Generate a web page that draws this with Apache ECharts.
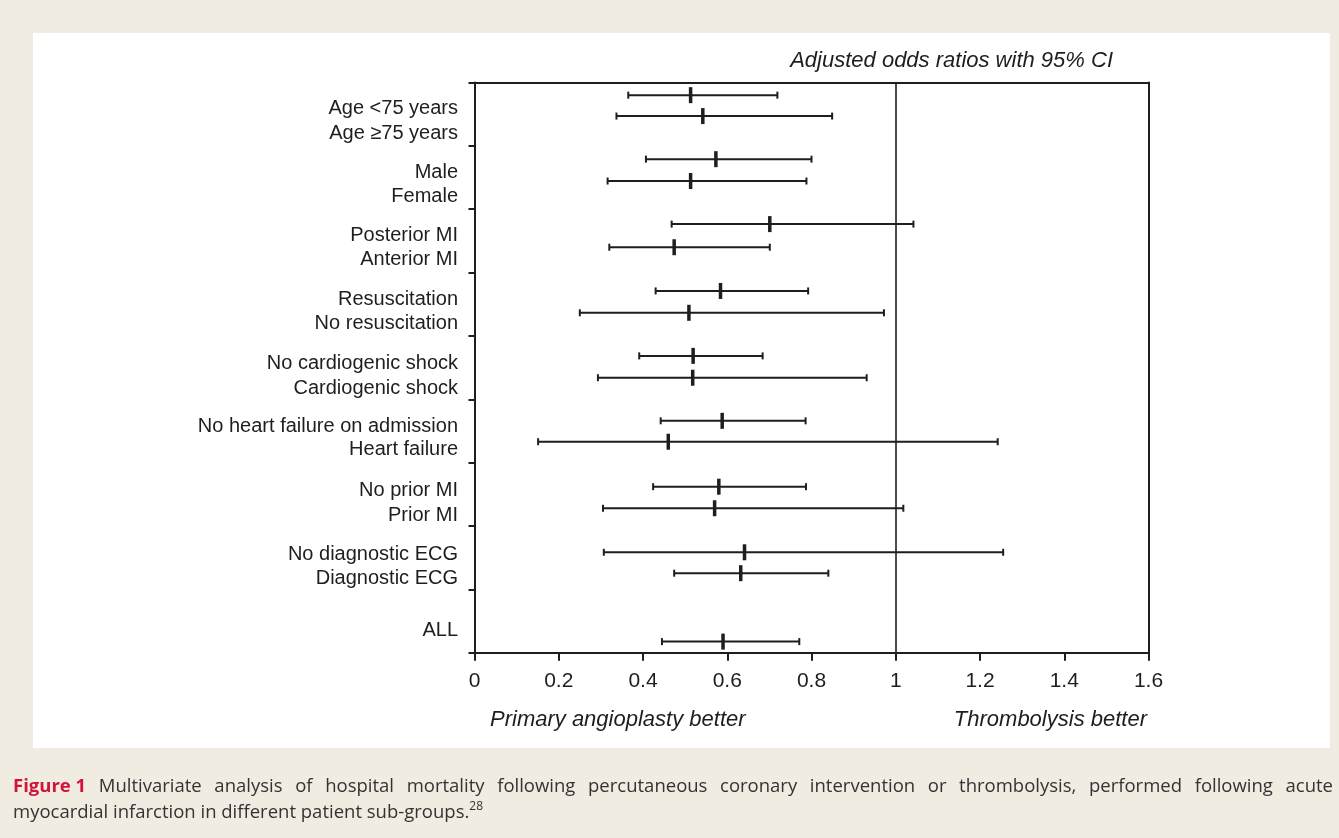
<!DOCTYPE html>
<html>
<head>
<meta charset="utf-8">
<script src="https://cdn.jsdelivr.net/npm/echarts@6/dist/echarts.min.js"></script>
<style>
  html, body { margin: 0; padding: 0; background: #f0ece2; }
  #chart { width: 1339px; height: 838px; }
</style>
</head>
<body>
<div id="chart"></div>
<script>
// ---- data ----
const rowLabels = [
  'Age <75 years', 'Age \u226575 years',
  'Male', 'Female',
  'Posterior MI', 'Anterior MI',
  'Resuscitation', 'No resuscitation',
  'No cardiogenic shock', 'Cardiogenic shock',
  'No heart failure on admission', 'Heart failure',
  'No prior MI', 'Prior MI',
  'No diagnostic ECG', 'Diagnostic ECG',
  'ALL'
];
const oddsRatio = [0.513, 0.542, 0.573, 0.513, 0.701, 0.474, 0.584, 0.509, 0.519, 0.518, 0.588, 0.460, 0.580, 0.570, 0.641, 0.632, 0.590];
const ciLower   = [0.365, 0.337, 0.407, 0.316, 0.468, 0.320, 0.430, 0.250, 0.391, 0.293, 0.442, 0.151, 0.424, 0.305, 0.307, 0.474, 0.445];
const ciUpper   = [0.719, 0.849, 0.800, 0.788, 1.042, 0.701, 0.792, 0.972, 0.684, 0.931, 0.786, 1.242, 0.787, 1.018, 1.255, 0.840, 0.771];
// vertical place of each interval and of each label, in subgroup units (0 = top, 9 = bottom)
const barRow   = [0.20, 0.53, 1.21, 1.555, 2.235, 2.60, 3.29, 3.635, 4.315, 4.66, 5.34, 5.67, 6.38, 6.72, 7.415, 7.745, 8.825];
const labelRow = [0.41, 0.80, 1.42, 1.80, 2.42, 2.80, 3.43, 3.81, 4.44, 4.83, 5.43, 5.80, 6.44, 6.83, 7.45, 7.83, 8.65];
const xTicks = [0, 0.2, 0.4, 0.6, 0.8, 1, 1.2, 1.4, 1.6];
const titleText = 'Adjusted odds ratios with 95% CI';
const leftNote = 'Primary angioplasty better';
const rightNote = 'Thrombolysis better';
const captionLabel = 'Figure 1';
const captionLine1 = 'Multivariate analysis of hospital mortality following percutaneous coronary intervention or thrombolysis, performed following acute';
const captionLine2 = 'myocardial infarction in different patient sub-groups.';
const captionRef = '28';

// ---- chart ----
const INK = '#1e1e1e';
const FONT = '"Liberation Sans", Arial, Helvetica, sans-serif';
const CAP_FONT = '18.5px "Open Sans", sans-serif';
const CAP_BOLD = 'bold 18.5px "Open Sans", sans-serif';
const CAP_COLOR = '#333333';
const FIG_COLOR = '#d2143a';
const chart = echarts.init(document.getElementById('chart'), null, { renderer: 'canvas' });

const ciData = oddsRatio.map((v, i) => [ciLower[i], v, ciUpper[i], barRow[i]]);
const labelData = labelRow.map((p, i) => [0, p, rowLabels[i]]);

function renderCI(params, api) {
  const y = api.value(3);
  const lo = api.coord([api.value(0), y]);
  const mid = api.coord([api.value(1), y]);
  const hi = api.coord([api.value(2), y]);
  const st = { stroke: INK, lineWidth: 2 };
  return {
    type: 'group',
    children: [
      { type: 'line', shape: { x1: lo[0], y1: lo[1], x2: hi[0], y2: hi[1] }, style: st },
      { type: 'line', shape: { x1: lo[0], y1: lo[1] - 3.5, x2: lo[0], y2: lo[1] + 3.5 }, style: st },
      { type: 'line', shape: { x1: hi[0], y1: hi[1] - 3.5, x2: hi[0], y2: hi[1] + 3.5 }, style: st },
      { type: 'line', shape: { x1: mid[0], y1: mid[1] - 8, x2: mid[0], y2: mid[1] + 8 }, style: { stroke: INK, lineWidth: 3.5 } }
    ]
  };
}

// justified first caption line (the caption paragraph is set justified)
function justifiedLine(x0, x1, y) {
  const ctx = document.createElement('canvas').getContext('2d');
  const words = [{ t: captionLabel, font: CAP_BOLD, fill: FIG_COLOR }]
    .concat(captionLine1.split(' ').map(w => ({ t: w, font: CAP_FONT, fill: CAP_COLOR })));
  let total = 0;
  words.forEach(w => { ctx.font = w.font; w.w = ctx.measureText(w.t).width; total += w.w; });
  const gap = (x1 - x0 - total) / (words.length - 1);
  let x = x0;
  return words.map(w => {
    const el = { type: 'text', silent: true, x: x, y: y, style: { text: w.t, font: w.font, fill: w.fill, verticalAlign: 'middle' } };
    x += w.w + gap;
    return el;
  });
}

const axisLineStyle = { color: INK, width: 2 };

chart.setOption({
  animation: false,
  backgroundColor: 'transparent',
  grid: { left: 474.5, top: 82.5, right: 190.5, bottom: 185.3, containLabel: false },
  xAxis: [
    {
      type: 'value', min: 0, max: 1.6, interval: 0.2, position: 'bottom',
      axisLine: { show: true, onZero: false, lineStyle: axisLineStyle },
      axisTick: { show: true, length: 8, lineStyle: { color: INK, width: 2 } },
      axisLabel: {
        show: true, margin: 18, fontSize: 21, color: INK, fontFamily: FONT,
        formatter: v => { const t = xTicks.find(x => Math.abs(x - v) < 1e-9); return t === undefined ? '' : String(t); }
      },
      splitLine: { show: false }
    },
    {
      type: 'value', min: 0, max: 1.6, interval: 0.2, position: 'top',
      axisLine: { show: true, onZero: false, lineStyle: axisLineStyle },
      axisTick: { show: false }, axisLabel: { show: false }, splitLine: { show: false }
    }
  ],
  yAxis: [
    {
      type: 'value', min: 0, max: 9, interval: 1, inverse: true, position: 'left',
      axisLine: { show: true, onZero: false, lineStyle: axisLineStyle },
      axisTick: { show: true, length: 6, lineStyle: { color: INK, width: 2 } },
      axisLabel: { show: false }, splitLine: { show: false }
    },
    {
      type: 'value', min: 0, max: 9, interval: 1, inverse: true, position: 'right',
      axisLine: { show: true, onZero: false, lineStyle: axisLineStyle },
      axisTick: { show: false }, axisLabel: { show: false }, splitLine: { show: false }
    }
  ],
  series: [
    {
      type: 'custom', name: 'CI', xAxisIndex: 0, yAxisIndex: 0,
      renderItem: renderCI, data: ciData, silent: true, clip: false,
      encode: { x: [0, 1, 2], y: 3 },
      markLine: {
        silent: true, symbol: 'none', label: { show: false },
        lineStyle: { color: INK, width: 1.6, type: 'solid' },
        data: [{ xAxis: 1 }]
      }
    },
    {
      type: 'scatter', name: 'labels', xAxisIndex: 0, yAxisIndex: 0,
      data: labelData, symbolSize: 1, silent: true, clip: false,
      itemStyle: { color: 'rgba(0,0,0,0)', opacity: 1 },
      label: {
        show: true, position: 'left', distance: 16,
        formatter: p => p.data[2],
        fontSize: 20, color: INK, fontFamily: FONT, opacity: 1
      }
    }
  ],
  graphic: [
    { type: 'rect', z: -100, silent: true, shape: { x: 33, y: 33, width: 1297, height: 715 }, style: { fill: '#ffffff' } },
    { type: 'text', silent: true, x: 1113, y: 61, style: { text: titleText, font: 'italic 22px ' + FONT, fill: INK, align: 'right', verticalAlign: 'middle' } },
    { type: 'text', silent: true, x: 490, y: 720, style: { text: leftNote, font: 'italic 22px ' + FONT, fill: INK, align: 'left', verticalAlign: 'middle' } },
    { type: 'text', silent: true, x: 1147, y: 720, style: { text: rightNote, font: 'italic 22px ' + FONT, fill: INK, align: 'right', verticalAlign: 'middle' } },
    ...justifiedLine(13, 1333, 787),
    {
      type: 'text', silent: true, x: 13, y: 813,
      style: {
        text: '{t|' + captionLine2 + '}{s|' + captionRef + '}',
        verticalAlign: 'middle',
        rich: {
          t: { font: CAP_FONT, fill: CAP_COLOR, lineHeight: 24 },
          s: { font: '12px "Open Sans", sans-serif', fill: CAP_COLOR, verticalAlign: 'top', lineHeight: 24, padding: [0, 0, 10, 0] }
        }
      }
    }
  ]
});
</script>
</body>
</html>
